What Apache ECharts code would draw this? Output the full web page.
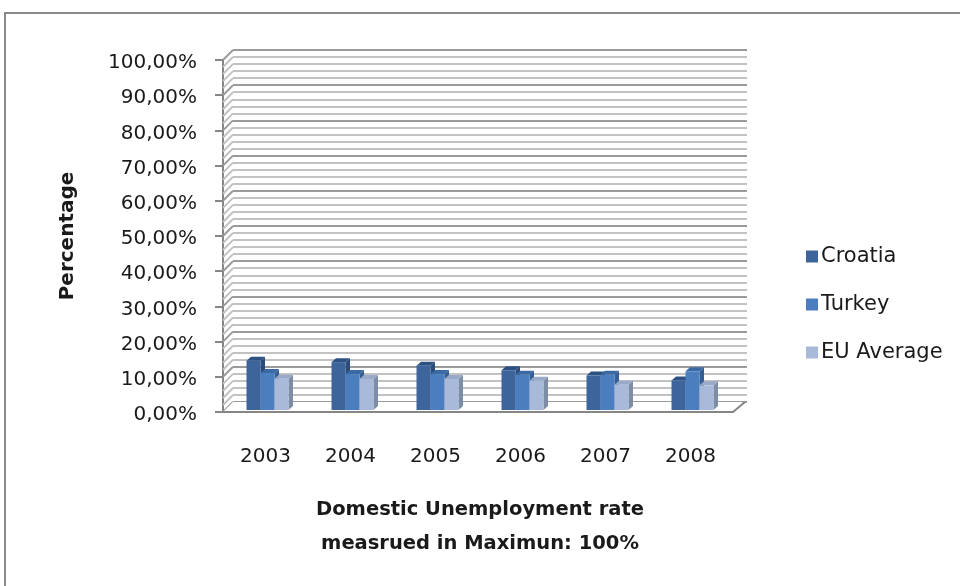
<!DOCTYPE html>
<html>
<head>
<meta charset="utf-8">
<script src="https://cdn.jsdelivr.net/npm/echarts@6/dist/echarts.min.js"></script>
<style>html,body{margin:0;padding:0;background:#fff}#c{width:960px;height:586px}</style>
</head>
<body>
<div id="c"></div>
<script>
const categories = ['2003', '2004', '2005', '2006', '2007', '2008'];
const croatia = [14.0, 13.6, 12.6, 11.3, 9.8, 8.4];
const turkey = [10.5, 10.2, 10.2, 10.0, 10.0, 11.0];
const euAverage = [8.9, 8.8, 8.8, 8.3, 7.2, 7.0];
const yMax = 100, yInterval = 10, wallStep = 2;

const FONT = 'DejaVu Sans';
const DX = 10, DY = 10;        // wall depth
const BW = 14, BDX = 4.5, BDY = 4, BOFF = 2; // bar geometry

const seriesDefs = [
  {name: 'Croatia', data: croatia, front: '#3D659C', top: '#2E5184', side: '#2B4B78'},
  {name: 'Turkey', data: turkey, front: '#4A7EBE', top: '#3B69A3', side: '#355F94'},
  {name: 'EU Average', data: euAverage, front: '#A9B9D9', top: '#98A9C9', side: '#7E8DA6'}
];

const chart = echarts.init(document.getElementById('c'));

function wallRender(params, api) {
  const cs = params.coordSys;
  const x0 = cs.x, x1 = cs.x + cs.width;
  const children = [];
  for (let v = 0; v <= yMax; v += wallStep) {
    const y = api.coord([0, v])[1];
    const major = v % yInterval === 0;
    children.push({type: 'line', shape: {x1: x0, y1: y, x2: x0 + DX, y2: y - DY},
      style: {stroke: major ? '#9a9a9a' : '#c2c2c2', lineWidth: 2}});
  }
  const yb = api.coord([0, 0])[1];
  children.push({type: 'polygon', shape: {points: [[x0, yb], [x1, yb], [x1 + DX, yb - DY], [x0 + DX, yb - DY]]},
    style: {fill: '#ffffff'}});
  children.push({type: 'polyline', shape: {points: [[x0 - 8, yb], [x1, yb], [x1 + DX + 2, yb - DY]]},
    style: {stroke: '#868686', lineWidth: 2, fill: null}});
  return {type: 'group', children: children};
}

function barRender(idx) {
  const def = seriesDefs[idx];
  return function (params, api) {
    const c = api.coord([api.value(0), api.value(1)]);
    const base = api.coord([api.value(0), 0]);
    const cx = c[0] + (idx - 1) * BW + BOFF;
    const xl = cx - BW / 2, xr = cx + BW / 2;
    const yt = c[1] - BOFF, yb = base[1] - BOFF;
    return {type: 'group', children: [
      {type: 'polygon', shape: {points: [[xr, yt], [xr + BDX, yt - BDY], [xr + BDX, yb - BDY], [xr, yb]]}, style: {fill: def.side}},
      {type: 'polygon', shape: {points: [[xl, yt], [xl + BDX, yt - BDY], [xr + BDX, yt - BDY], [xr, yt]]}, style: {fill: def.top}},
      {type: 'rect', shape: {x: xl, y: yt, width: BW, height: yb - yt}, style: {fill: def.front}}
    ]};
  };
}

const series = [
  {type: 'custom', name: '_wall', xAxisIndex: 0, yAxisIndex: 0, data: [[0, 0]], renderItem: wallRender, z: 1, silent: true}
];
seriesDefs.forEach((d, i) => {
  series.push({
    type: 'custom', name: d.name, xAxisIndex: 0, yAxisIndex: 0,
    itemStyle: {color: d.front},
    encode: {x: 0, y: 1},
    data: d.data.map((v, k) => [k, v]),
    renderItem: barRender(i), z: 5 + i
  });
});

chart.setOption({
  animation: false,
  textStyle: {fontFamily: FONT},
  grid: [
    {left: 223, right: 227, top: 60, bottom: 174},
    {left: 233, right: 213, top: 50, bottom: 184}
  ],
  xAxis: [
    {type: 'category', gridIndex: 0, data: categories,
      axisLine: {show: false}, axisTick: {show: false},
      axisLabel: {margin: 35, fontSize: 20, color: '#1a1a1a', fontFamily: FONT}},
    {type: 'category', gridIndex: 1, data: categories, show: false}
  ],
  yAxis: [
    {type: 'value', gridIndex: 0, min: 0, max: yMax, interval: yInterval,
      name: 'Percentage', nameLocation: 'middle', nameRotate: 90, nameGap: 145,
      nameTextStyle: {fontSize: 20, fontWeight: 'bold', color: '#1a1a1a', fontFamily: FONT},
      axisLine: {show: true, lineStyle: {color: '#868686', width: 2}},
      axisTick: {show: true, length: 8, inside: false, lineStyle: {color: '#868686', width: 2}},
      splitLine: {show: false},
      axisLabel: {margin: 26, fontSize: 20, color: '#1a1a1a', fontFamily: FONT,
        formatter: v => '{a|' + v.toFixed(2).replace('.', ',') + '%}',
        rich: {a: {fontSize: 20, fontFamily: FONT, color: '#1a1a1a', padding: [6, 0, 0, 0]}}}},
    {type: 'value', gridIndex: 1, min: 0, max: yMax, interval: yInterval,
      axisLine: {show: false}, axisTick: {show: false}, axisLabel: {show: false},
      splitLine: {show: true, lineStyle: {color: '#9a9a9a', width: 2}},
      minorTick: {show: false, splitNumber: yInterval / wallStep},
      minorSplitLine: {show: true, lineStyle: {color: '#c2c2c2', width: 2}}}
  ],
  legend: {
    orient: 'vertical', left: 801, top: 241, itemGap: 27,
    itemWidth: 12, itemHeight: 12, icon: 'rect',
    data: seriesDefs.map(d => d.name),
    textStyle: {fontSize: 21, color: '#1a1a1a', fontFamily: FONT, padding: [0, 0, 0, -2]}
  },
  graphic: [
    {type: 'rect', shape: {x: 5, y: 13, width: 980, height: 600}, style: {fill: null, stroke: '#8a8a8a', lineWidth: 2}, z: 0, silent: true},
    {type: 'text', left: 'center', top: 493, style: {
      text: 'Domestic Unemployment rate\nmeasrued in Maximun: 100%', textAlign: 'center',
      font: 'bold 19.5px "DejaVu Sans"', lineHeight: 34, fill: '#1a1a1a'}, silent: true}
  ],
  series: series
});
</script>
</body>
</html>
